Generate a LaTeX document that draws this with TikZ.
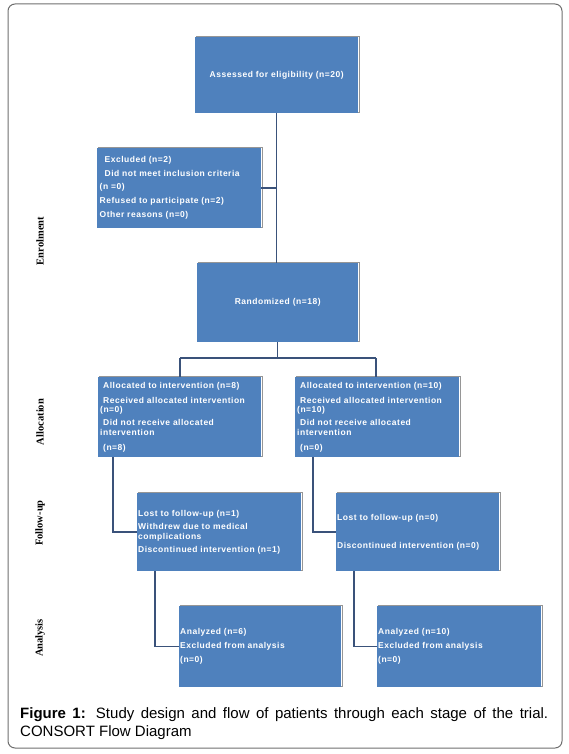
\documentclass[tikz,border=0pt]{standalone}
\usepackage{fontspec}
\setmainfont{Liberation Sans}
\newfontfamily\boxfont[LetterSpace=6]{Liberation Sans}
\newfontfamily\sidefont{Liberation Serif}
\usetikzlibrary{shadows}
\definecolor{boxblue}{RGB}{79,129,189}
\definecolor{lineblue}{RGB}{58,82,122}
\definecolor{shadowgray}{RGB}{150,150,150}
\definecolor{framegray}{RGB}{110,110,110}
\tikzset{
  box/.style={fill=boxblue, draw=none, inner sep=0pt, anchor=north west,
    text=white, font=\boxfont\bfseries\fontsize{8.5}{10}\selectfont,
    general shadow={shadow xshift=1.2pt, shadow yshift=1.2pt, fill=none, draw=shadowgray, line width=0.8pt}},
  lbox/.style={box, align=left},
  cbox/.style={box, align=center},
  conn/.style={draw=lineblue, line width=1.5pt},
  side/.style={font=\sidefont\bfseries\fontsize{10.5}{12}\selectfont, rotate=90, inner sep=0pt},
}
\begin{document}
\begin{tikzpicture}[x=1pt, y=-1pt]
\useasboundingbox (0,0) rectangle (568,754);
\draw[framegray, line width=1pt, rounded corners=7pt] (8,4) rectangle (562,748);

% boxes
\node[cbox, minimum width=163pt, minimum height=76pt] (assess) at (195,37) {Assessed for eligibility (n=20)};
\node[lbox, minimum width=164pt, minimum height=80pt, inner xsep=2.5pt, text width=159pt] (excl) at (97,148)
 {\hspace*{5pt}Excluded (n=2)\\[4pt]
  \hspace*{5pt}Did not meet inclusion criteria\\[3pt]
  (n =0)\\[4pt]
  Refused to participate (n=2)\\[4pt]
  Other reasons (n=0)};
\node[cbox, minimum width=161pt, minimum height=79pt] (rand) at (197,263) {Randomized (n=18)};

\node[lbox, minimum width=163pt, minimum height=80pt, inner xsep=2pt, text width=159pt] (allocL) at (98,377)
 {\hspace*{3pt}Allocated to intervention (n=8)\\[5pt]
  \hspace*{3pt}Received allocated intervention\\[-1pt]
  (n=0)\\[3pt]
  \hspace*{3pt}Did not receive allocated\\
  intervention\\[5pt]
  \hspace*{3pt}(n=8)};
\node[lbox, minimum width=164pt, minimum height=80pt, inner xsep=2pt, text width=160pt] (allocR) at (295,377)
 {\hspace*{3pt}Allocated to intervention (n=10)\\[5pt]
  \hspace*{3pt}Received allocated intervention\\[-1pt]
  (n=10)\\[3pt]
  \hspace*{3pt}Did not receive allocated\\
  intervention\\[5pt]
  \hspace*{3pt}(n=0)};

\node[lbox, minimum width=164pt, minimum height=78pt, inner xsep=1pt, text width=162pt] (fuL) at (137,493)
 {Lost to follow-up (n=1)\\[3pt]
  Withdrew due to medical\\
  complications\\[3pt]
  Discontinued intervention (n=1)};
\node[lbox, minimum width=163pt, minimum height=78pt, inner xsep=1pt, text width=161pt] (fuR) at (336,493)
 {Lost to follow-up (n=0)\\[18pt]
  Discontinued intervention (n=0)};

\node[lbox, minimum width=162pt, minimum height=81pt, inner xsep=1pt, text width=160pt] (anL) at (179,606)
 {Analyzed (n=6)\\[4pt]
  Excluded from analysis\\[4pt]
  (n=0)};
\node[lbox, minimum width=164pt, minimum height=81pt, inner xsep=1pt, text width=162pt] (anR) at (377,606)
 {Analyzed (n=10)\\[4pt]
  Excluded from analysis\\[4pt]
  (n=0)};

% side labels
\node[side] (enrol) at (40,241) {Enrolment};
\node[side] (alloc) at (40,422) {Allocation};
\node[side] (follow) at (40,523) {Follow-up};
\node[side] (anal) at (40,638) {Analysis};

% connectors
\coordinate (splitL) at (180,358);
\coordinate (splitR) at (376,358);
\draw[conn] (assess.south) -- (assess.south |- rand.north);
\draw[conn] (excl.east) -- (excl.east -| assess.south);
\draw[conn] (rand.south) -- (rand.south |- splitL);
\draw[conn] (splitL) -- (splitR);
\draw[conn] (splitL) -- (splitL |- allocL.north);
\draw[conn] (splitR) -- (splitR |- allocR.north);
\draw[conn] ([xshift=15pt]allocL.south west) |- (fuL.west);
\draw[conn] ([xshift=18pt]allocR.south west) |- (fuR.west);
\draw[conn] ([xshift=18pt]fuL.south west) |- (anL.west);
\draw[conn] ([xshift=18pt]fuR.south west) |- (anR.west);

% caption
\node[anchor=base west, inner sep=0pt] (cap) at (20,718)
 {\parbox[t]{528pt}{\fontsize{15}{18}\selectfont\textbf{Figure 1:} Study design and flow of patients through each stage of the trial.\linebreak CONSORT Flow Diagram}};
\end{tikzpicture}
\end{document}
